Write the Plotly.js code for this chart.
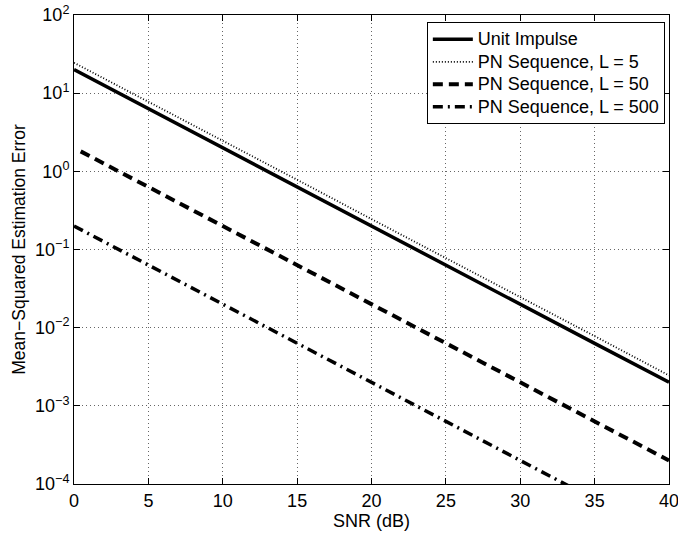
<!DOCTYPE html>
<html>
<head>
<meta charset="utf-8">
<script src="https://cdn.plot.ly/plotly-3.0.1.min.js"></script>
<style>
html,body{margin:0;padding:0;background:#fff;}
#chart{width:678px;height:533px;}
.legendtext{font-size:18px !important;}
</style>
</head>
<body>
<div id="chart"></div>
<script>
var snr = [0, 5, 10, 15, 20, 25, 30, 35, 40];
var unitImpulse = [20, 6.3, 2, 0.63, 0.2, 0.063, 0.02, 0.0063, 0.002];
var pnL5 = [24.5, 7.8, 2.45, 0.78, 0.245, 0.078, 0.0245, 0.0078, 0.00245];
var snrL50 = [0.45, 5, 10, 15, 20, 25, 30, 35, 40];
var pnL50 = [1.8, 0.63, 0.2, 0.063, 0.02, 0.0063, 0.002, 0.00063, 0.0002];
var pnL500 = [0.2, 0.063, 0.02, 0.0063, 0.002, 0.00063, 0.0002, 0.000063, 0.00002];
var names = ['Unit Impulse', 'PN Sequence, L = 5', 'PN Sequence, L = 50', 'PN Sequence, L = 500'];
var yTickVals = [1e-4, 1e-3, 1e-2, 1e-1, 1, 10, 100];
var yTickText = ['10<sup>−4</sup>', '10<sup>−3</sup>', '10<sup>−2</sup>', '10<sup>−1</sup>', '10<sup>0</sup>', '10<sup>1</sup>', '10<sup>2</sup>'];

var traces = [
  {x: snr, y: unitImpulse, name: names[0], mode: 'lines', line: {color: '#000', width: 3.5}},
  {x: snr, y: pnL5, name: names[1], mode: 'lines', line: {color: '#000', width: 1.8, dash: '1px,2px'}},
  {x: snrL50, y: pnL50, name: names[2], mode: 'lines', line: {color: '#000', width: 4, dash: '10px,6px'}},
  {x: snr, y: pnL500, name: names[3], mode: 'lines', line: {color: '#000', width: 3.5, dash: '10px,5px,2px,5px'}}
];

var fam = 'Liberation Sans, Arial, Helvetica, sans-serif';
var layout = {
  width: 678, height: 533,
  margin: {l: 74, r: 9, t: 15, b: 49},
  paper_bgcolor: '#fff', plot_bgcolor: '#fff',
  font: {family: fam, size: 18, color: '#000'},
  showlegend: true,
  legend: {
    x: 0.993, y: 0.985, xanchor: 'right', yanchor: 'top',
    bgcolor: '#fff', bordercolor: '#000', borderwidth: 1,
    font: {family: fam, size: 15, color: '#000'},
    itemwidth: 40, tracegroupgap: 0
  },
  xaxis: {
    range: [0, 40], dtick: 5, tick0: 0,
    showline: true, linecolor: '#000', linewidth: 1, mirror: 'allticks',
    ticks: 'inside', ticklen: 6, tickcolor: '#000',
    showgrid: true, gridcolor: '#666', griddash: '1px,3px', gridwidth: 1,
    zeroline: false, ticklabeloverflow: 'allow',
    title: {text: 'SNR (dB)', font: {size: 18}, standoff: 0},
    tickfont: {size: 18}
  },
  yaxis: {
    type: 'log', range: [-4, 2], tickmode: 'array', tickvals: yTickVals, ticktext: yTickText,
    showline: true, linecolor: '#000', linewidth: 1, mirror: 'allticks',
    ticks: 'inside', ticklen: 6, tickcolor: '#000',
    showgrid: true, gridcolor: '#666', griddash: '1px,3px', gridwidth: 1,
    zeroline: false,
    title: {text: '\u00a0\u00a0\u00a0\u00a0\u00a0Mean−Squared Estimation Error', font: {size: 17.5}, standoff: 4},
    tickfont: {size: 18}
  }
};
Plotly.newPlot('chart', traces, layout, {displayModeBar: false, staticPlot: true});
</script>
</body>
</html>
